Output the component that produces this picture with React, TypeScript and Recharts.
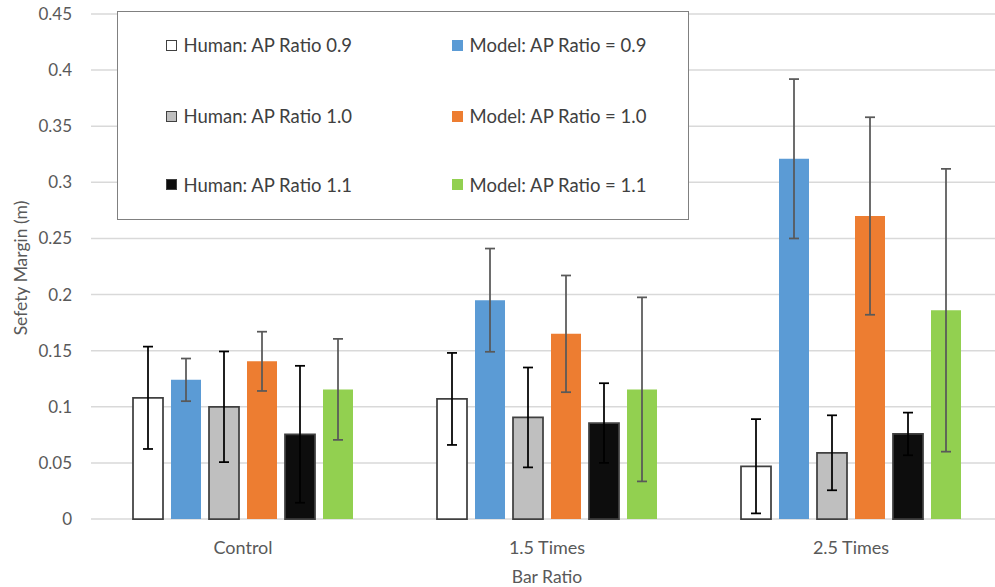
import React from 'react';
import { BarChart, Bar, XAxis, YAxis, CartesianGrid, ErrorBar, Legend } from 'recharts';

const categories = ['Control', '1.5 Times', '2.5 Times'];

const humanAP09 = [0.108, 0.107, 0.047];
const humanAP09Err = [0.0456, 0.041, 0.042];
const modelAP09 = [0.124, 0.195, 0.321];
const modelAP09Err = [0.019, 0.046, 0.071];
const humanAP10 = [0.1, 0.0905, 0.059];
const humanAP10Err = [0.0493, 0.0445, 0.0334];
const modelAP10 = [0.1405, 0.165, 0.27];
const modelAP10Err = [0.0264, 0.052, 0.088];
const humanAP11 = [0.0755, 0.0855, 0.0758];
const humanAP11Err = [0.061, 0.0355, 0.019];
const modelAP11 = [0.1155, 0.1155, 0.186];
const modelAP11Err = [0.045, 0.082, 0.126];

const yTicks = [0, 0.05, 0.1, 0.15, 0.2, 0.25, 0.3, 0.35, 0.4, 0.45];

const FONT = 'Lato, "Open Sans", sans-serif';

type Series = {
  key: string;
  name: string;
  values: number[];
  errors: number[];
  fill: string;
  human: boolean;
};

const series: Series[] = [
  { key: 'h09', name: 'Human: AP Ratio 0.9', values: humanAP09, errors: humanAP09Err, fill: '#FFFFFF', human: true },
  { key: 'm09', name: 'Model: AP Ratio = 0.9', values: modelAP09, errors: modelAP09Err, fill: '#5B9BD5', human: false },
  { key: 'h10', name: 'Human: AP Ratio 1.0', values: humanAP10, errors: humanAP10Err, fill: '#BFBFBF', human: true },
  { key: 'm10', name: 'Model: AP Ratio = 1.0', values: modelAP10, errors: modelAP10Err, fill: '#ED7D31', human: false },
  { key: 'h11', name: 'Human: AP Ratio 1.1', values: humanAP11, errors: humanAP11Err, fill: '#0D0D0D', human: true },
  { key: 'm11', name: 'Model: AP Ratio = 1.1', values: modelAP11, errors: modelAP11Err, fill: '#92D050', human: false },
];

const data = categories.map((c, i) => {
  const row: Record<string, any> = { category: c };
  series.forEach((s) => {
    row[s.key] = s.values[i];
    row[s.key + 'Err'] = s.errors[i];
  });
  return row;
});

const legendCols = [series.filter((s) => s.human), series.filter((s) => !s.human)];
const colLefts = [47.5, 333.5];
const rowCenters = [33, 104.2, 172.5];

const LegendBox = () => (
  <div
    style={{
      position: 'relative',
      width: 572,
      height: 209,
      border: '1.5px solid #808080',
      boxSizing: 'border-box',
      background: '#fff',
      fontFamily: FONT,
    }}
  >
    {legendCols.map((col, ci) =>
      col.map((s, ri) => (
        <div
          key={s.key}
          style={{
            position: 'absolute',
            left: colLefts[ci],
            top: rowCenters[ri] - 11,
            height: 22,
            display: 'flex',
            alignItems: 'center',
          }}
        >
          <span
            style={{
              display: 'inline-block',
              width: 11,
              height: 11,
              background: s.fill,
              border: s.human ? '1.5px solid #404040' : 'none',
              boxSizing: 'border-box',
              marginRight: 7,
            }}
          />
          <span style={{ fontSize: 18.5, color: '#404040', whiteSpace: 'nowrap', lineHeight: '22px' }}>{s.name}</span>
        </div>
      ))
    )}
  </div>
);

const YLabel = () => (
  <text
    x={20.5}
    y={268}
    transform="rotate(-90 20.5 268)"
    textAnchor="middle"
    dominantBaseline="central"
    fontSize={17.5}
    fontFamily={FONT}
    fill="#595959"
  >
    Sefety Margin (m)
  </text>
);

const XLabel = (props: any) => {
  const vb = props.viewBox || { x: 91, width: 912 };
  const cx = vb.x + vb.width / 2;
  return (
    <text x={cx} y={583} textAnchor="middle" fontSize={17.5} fontFamily={FONT} fill="#595959">
      Bar Ratio
    </text>
  );
};

export default function App() {
  return (
    <div
      style={{
        position: 'absolute',
        left: 0,
        top: 0,
        width: 995,
        height: 587,
        overflow: 'hidden',
        background: '#fff',
        fontFamily: FONT,
      }}
    >
      <BarChart
        width={1010}
        height={587}
        data={data}
        margin={{ top: 14, right: 7, bottom: 8, left: 0 }}
        barGap={8}
      >
        <CartesianGrid horizontal vertical={false} stroke="#D9D9D9" strokeWidth={1.5} />
        <XAxis
          dataKey="category"
          height={60}
          axisLine={false}
          tickLine={false}
          tickSize={0}
          tickMargin={22}
          tick={{ fontSize: 18, fill: '#595959', fontFamily: FONT }}
          label={(p: any) => <XLabel {...p} />}
        />
        <YAxis
          width={91}
          domain={[0, 0.45]}
          ticks={yTicks}
          axisLine={false}
          tickLine={false}
          tickSize={0}
          tickMargin={19}
          interval={0}
          tick={{ fontSize: 17, fill: '#595959', fontFamily: FONT }}
          label={() => <YLabel />}
        />
        <Legend
          layout="vertical"
          align="center"
          verticalAlign="middle"
          content={() => <LegendBox />}
          wrapperStyle={{ left: 117, top: 11, width: 572, height: 209 }}
        />
        {series.map((s) => (
          <Bar
            key={s.key}
            dataKey={s.key}
            name={s.name}
            fill={s.fill}
            stroke={s.human ? '#404040' : 'none'}
            strokeWidth={s.human ? 1.75 : 0}
            barSize={30}
            isAnimationActive={false}
          >
            <ErrorBar
              dataKey={s.key + 'Err'}
              width={5}
              strokeWidth={1.75}
              stroke={s.human ? '#000000' : '#595959'}
              isAnimationActive={false}
            />
          </Bar>
        ))}
      </BarChart>
    </div>
  );
}
